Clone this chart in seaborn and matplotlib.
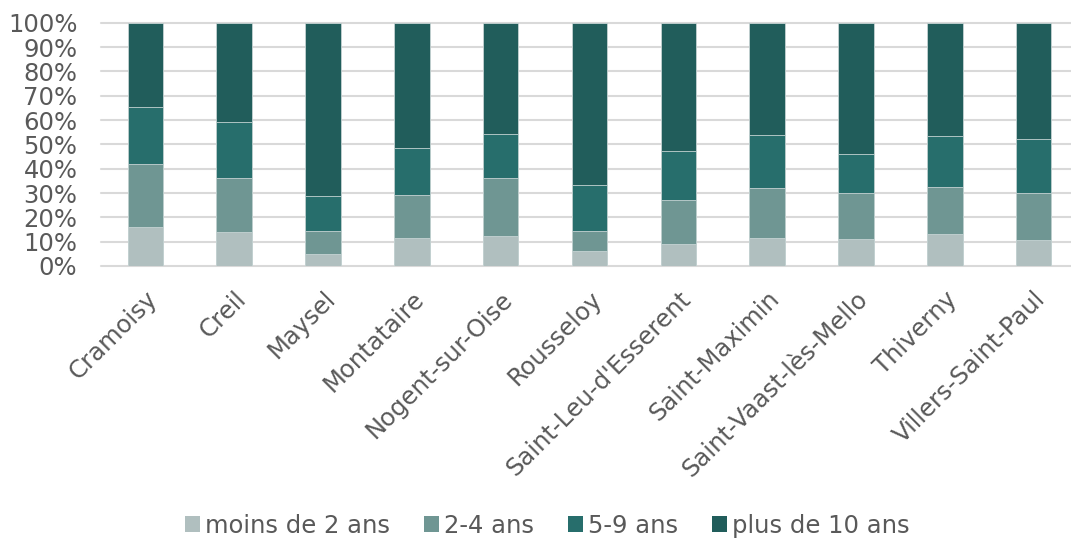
import numpy as np
import pandas as pd
import matplotlib
matplotlib.use("Agg")
import matplotlib.pyplot as plt
from matplotlib.patches import Patch
from matplotlib.ticker import PercentFormatter
import seaborn as sns

# the data (shares in %)
communes = ["Cramoisy", "Creil", "Maysel", "Montataire", "Nogent-sur-Oise",
            "Rousseloy", "Saint-Leu-d'Esserent", "Saint-Maximin",
            "Saint-Vaast-lès-Mello", "Thiverny", "Villers-Saint-Paul"]
moins_2 = [16.0, 14.0, 4.9, 11.4, 12.3, 6.2, 9.2, 11.5, 11.0, 13.2, 10.7]
ans_2_4 = [25.9, 22.2, 9.5, 17.8, 23.9, 8.2, 17.9, 20.4, 18.9, 19.1, 19.2]
ans_5_9 = [23.3, 22.8, 14.2, 19.3, 18.0, 18.9, 20.2, 21.8, 16.0, 21.0, 22.3]
plus_10 = [34.8, 41.0, 71.4, 51.5, 45.8, 66.7, 52.7, 46.3, 54.1, 46.7, 47.8]

series = ["moins de 2 ans", "2-4 ans", "5-9 ans", "plus de 10 ans"]
colors = ["#b0bfbf", "#6f9693", "#276e6c", "#215d5b"]

df = pd.DataFrame({
    "commune": communes,
    series[0]: moins_2,
    series[1]: ans_2_4,
    series[2]: ans_5_9,
    series[3]: plus_10,
})
# cumulative tops, to stack bars by overdrawing
cum = df[series].cumsum(axis=1)

sns.set_style("white")
plt.rcParams["font.family"] = ["DejaVu Sans"]
text_col = "#595959"

fig = plt.figure(figsize=(10.71, 5.38), dpi=100)
ax = fig.add_axes([101 / 1071, 1 - 266 / 538, 977 / 1071, 243.3 / 538])

for s, c in zip(reversed(series), reversed(colors)):
    sns.barplot(x=df["commune"], y=cum[s], color=c, width=0.4,
                order=communes, edgecolor="#c5d3d3", linewidth=0.6,
                saturation=1, ax=ax)

ax.set_ylim(0, 100)
ax.set_yticks(np.arange(0, 101, 10))
ax.yaxis.set_major_formatter(PercentFormatter(decimals=0))
ax.yaxis.grid(True, color="#d9d9d9", linewidth=1.5)
ax.set_axisbelow(True)
for sp in ax.spines.values():
    sp.set_visible(False)
for gl in ax.get_ygridlines():
    gl.set_clip_on(False)

ax.set_xlabel("")
ax.set_ylabel("")
ax.tick_params(axis="both", length=0, labelsize=17.5, colors=text_col)
ax.tick_params(axis="y", pad=17)
ax.tick_params(axis="x", pad=15)
plt.setp(ax.get_xticklabels(), rotation=45, ha="right",
         rotation_mode="anchor")

handles = [Patch(facecolor=c, edgecolor="none") for c in colors]
fig.legend(handles, series, loc="lower center", bbox_to_anchor=(0.511, -0.04),
           ncol=4, frameon=False, fontsize=17.5, labelcolor=text_col,
           handlelength=0.62, handleheight=0.62, handletextpad=0.2,
           columnspacing=1.4)

fig.savefig("out.png", dpi=100)
